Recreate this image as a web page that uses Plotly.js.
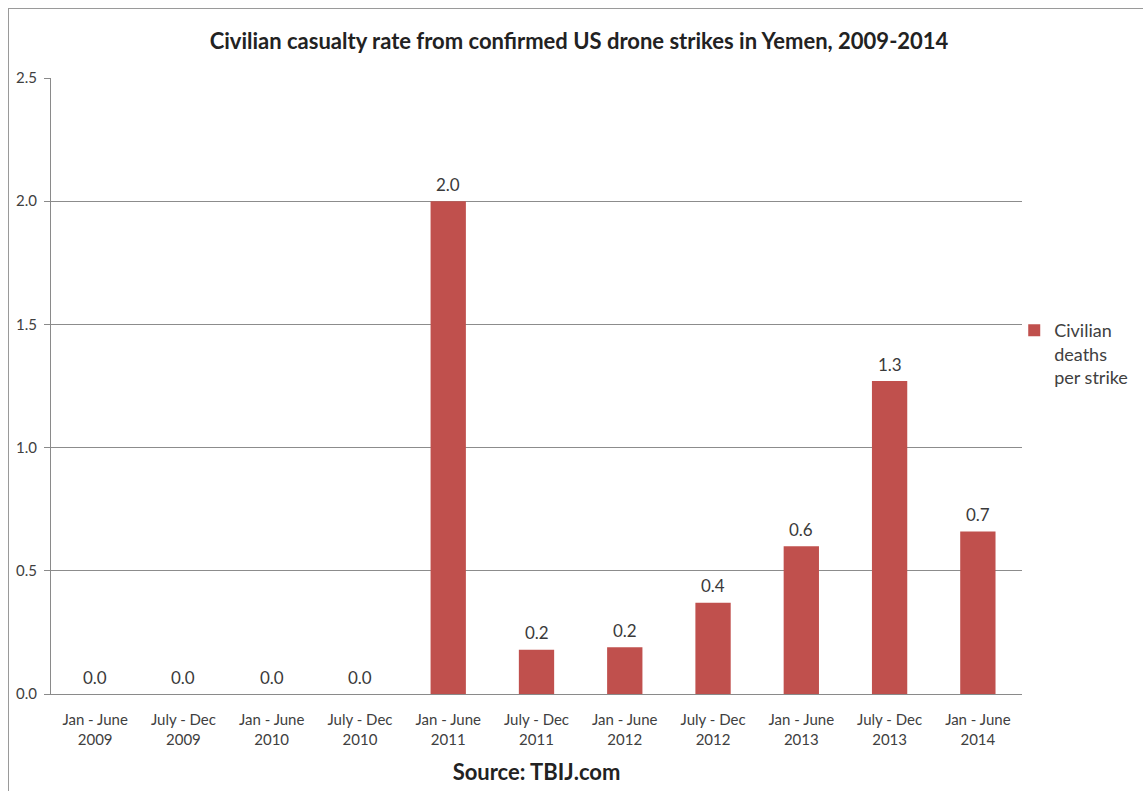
<!DOCTYPE html>
<html>
<head>
<meta charset="utf-8">
<script src="https://cdn.plot.ly/plotly-3.0.1.min.js"></script>
<style>
html,body{margin:0;padding:0;background:#fff;}
#chart{position:absolute;left:0;top:0;width:1143px;height:791px;}
#frame{position:absolute;left:8px;top:8px;width:1200px;height:900px;border-left:1px solid #9a9a9a;border-top:1px solid #9a9a9a;pointer-events:none;}
</style>
</head>
<body>
<div id="chart"></div>
<div id="frame"></div>
<script>
const categories = [
  "Jan - June<br>2009", "July - Dec<br>2009", "Jan - June<br>2010", "July - Dec<br>2010",
  "Jan - June<br>2011", "July - Dec<br>2011", "Jan - June<br>2012", "July - Dec<br>2012",
  "Jan - June<br>2013", "July - Dec<br>2013", "Jan - June<br>2014"
];
const civilianDeathsPerStrike = [0, 0, 0, 0, 2.0, 0.18, 0.19, 0.37, 0.60, 1.27, 0.66];
const seriesName = "Civilian<br>deaths<br>per strike";
const yTicks = [0, 0.5, 1.0, 1.5, 2.0, 2.5];

const FONT = "Lato, 'Open Sans', sans-serif";
const trace = {
  type: "bar",
  x: categories,
  y: civilianDeathsPerStrike,
  name: seriesName,
  marker: {color: "#c0504d"},
  hoverinfo: "x+y"
};

const valueLabels = categories.map((c, i) => ({
  x: c, y: civilianDeathsPerStrike[i], xref: "x", yref: "y",
  text: civilianDeathsPerStrike[i].toFixed(1),
  showarrow: false, yanchor: "middle", yshift: 17,
  font: {family: FONT, size: 17, color: "#3a3a3a"}
}));

const layout = {
  width: 1143, height: 791,
  paper_bgcolor: "rgba(0,0,0,0)",
  plot_bgcolor: "rgba(0,0,0,0)",
  margin: {l: 51, r: 121, t: 78, b: 97, autoexpand: false},
  bargap: 0.6,
  showlegend: true,
  font: {family: FONT, color: "#404040"},
  title: {
    text: "<b>Civilian casualty rate from confirmed US drone strikes in Yemen, 2009-2014</b>",
    font: {family: FONT, size: 22, color: "#222222"},
    x: 0.5066, xanchor: "center", y: 0.948, yanchor: "middle"
  },
  xaxis: {
    type: "category",
    showgrid: false,
    showline: true, linecolor: "#8a8a8a", linewidth: 1,
    ticks: "",
    ticklabelstandoff: 12,
    tickfont: {family: FONT, size: 15, color: "#404040"},
    title: {text: "<b>Source: TBIJ.com</b>", font: {family: FONT, size: 22, color: "#222222"}, standoff: 18},
    automargin: false
  },
  yaxis: {
    range: [0, 2.5],
    tickvals: yTicks,
    ticktext: yTicks.map(v => v.toFixed(1)),
    showgrid: true, gridcolor: "#8c8c8c", gridwidth: 1,
    showline: true, linecolor: "#8a8a8a", linewidth: 1,
    ticks: "outside", ticklen: 6, tickcolor: "#8a8a8a",
    ticklabelstandoff: 4,
    tickfont: {family: FONT, size: 15, color: "#404040"},
    zeroline: false,
    automargin: false
  },
  legend: {
    x: 0.992, xanchor: "left",
    y: 0.62, yanchor: "top",
    valign: "top",
    font: {family: FONT, size: 18, color: "#404040"},
    bgcolor: "rgba(0,0,0,0)"
  },
  annotations: valueLabels
};

Plotly.newPlot("chart", [trace], layout, {displayModeBar: false, staticPlot: true});
</script>
</body>
</html>
